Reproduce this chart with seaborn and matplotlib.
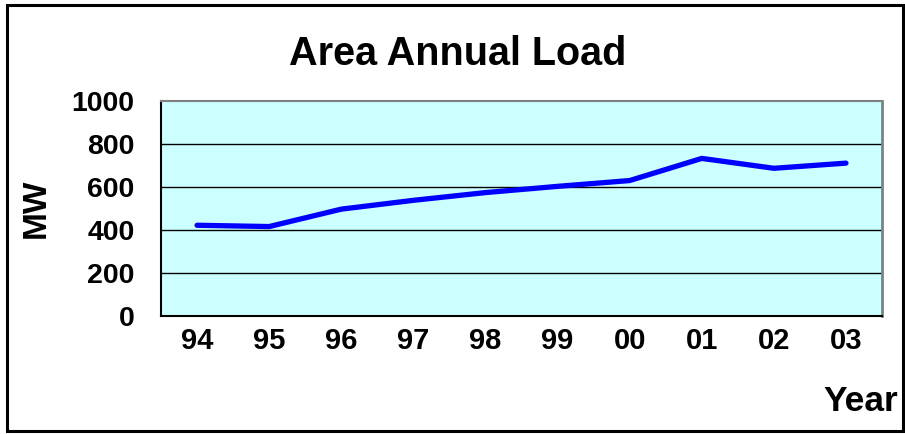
import pandas as pd
import matplotlib
matplotlib.use("Agg")
import matplotlib.pyplot as plt
import seaborn as sns
from matplotlib.ticker import FixedLocator
from matplotlib.patches import Rectangle

# data
years = ['94', '95', '96', '97', '98', '99', '00', '01', '02', '03']
load_mw = [422, 416, 497, 538, 574, 603, 630, 733, 687, 711]
y_ticks = [0, 200, 400, 600, 800, 1000]

df = pd.DataFrame({'Year': years, 'MW': load_mw})

sns.set_style("white")
plt.rcParams['font.family'] = ['Liberation Sans', 'DejaVu Sans']
plt.rcParams['text.color'] = 'black'
plt.rcParams['axes.labelcolor'] = 'black'
plt.rcParams['xtick.color'] = 'black'
plt.rcParams['ytick.color'] = 'black'

fig = plt.figure(figsize=(9.05, 4.34), dpi=100)
ax = fig.add_axes([161 / 905, 1 - 316 / 434, (882 - 161) / 905, (316 - 101) / 434])
ax.set_facecolor('#CCFFFF')

sns.lineplot(data=df, x='Year', y='MW', ax=ax, color='#0000FF', linewidth=3.8,
             solid_capstyle='round', solid_joinstyle='round', sort=False)

ax.set_xlim(-0.5, len(years) - 0.5)
ax.set_ylim(0, 1000)
ax.set_yticks(y_ticks)
ax.set_yticklabels([str(v) for v in y_ticks], fontsize=20.5, fontweight='bold')
ax.set_xticks(range(len(years)))
ax.set_xticklabels(years, fontsize=21, fontweight='bold')
ax.xaxis.set_minor_locator(FixedLocator([i - 0.5 for i in range(len(years) + 1)]))
ax.tick_params(axis='x', which='major', length=0, pad=8)
ax.tick_params(axis='x', which='minor', length=6, width=1.5, direction='out')
ax.tick_params(axis='y', length=7, width=1.5, direction='out', pad=12)

for v in y_ticks[1:-1]:
    ax.axhline(v, color='black', linewidth=1, zorder=0.5)

ax.spines['left'].set_color('black')
ax.spines['left'].set_linewidth(1.5)
ax.spines['bottom'].set_color('black')
ax.spines['bottom'].set_linewidth(1.5)
ax.spines['top'].set_color('#808080')
ax.spines['top'].set_linewidth(1.5)
ax.spines['right'].set_color('#808080')
ax.spines['right'].set_linewidth(2)

ax.set_xlabel('')
ax.set_ylabel('MW', fontsize=24, fontweight='bold', labelpad=14)

fig.text(458 / 905, 1 - 65 / 434, 'Area Annual Load', fontsize=28.5, fontweight='bold',
         ha='center', va='baseline')
fig.text(898 / 905, 1 - 411 / 434, 'Year', fontsize=25.5, fontweight='bold',
         ha='right', va='baseline')

# outer chart border
fig.patches.append(Rectangle((6.5 / 905, 3.5 / 434), 896 / 905, 426 / 434,
                             transform=fig.transFigure, fill=False,
                             edgecolor='black', linewidth=2.2))

fig.savefig('out.png', dpi=100, facecolor='white')
